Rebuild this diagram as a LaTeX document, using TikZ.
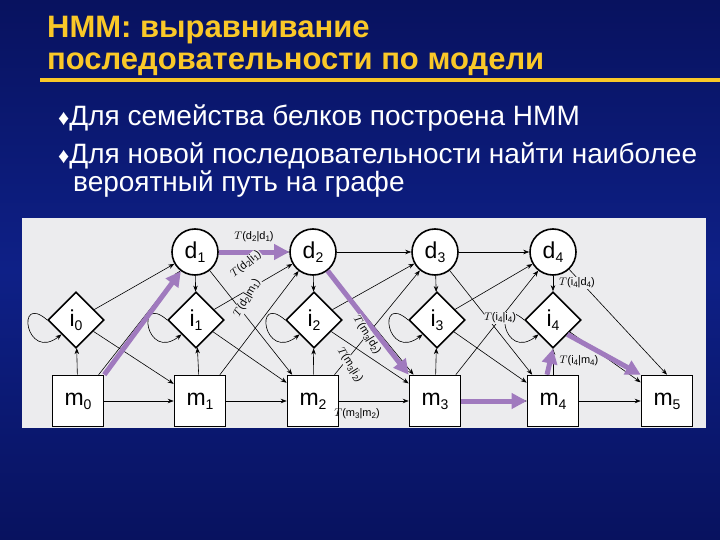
\documentclass[tikz,border=0pt]{standalone}
\usepackage{fontspec}
\setmainfont{Liberation Sans}
\usetikzlibrary{shapes.geometric,arrows.meta}
\definecolor{bgblue}{RGB}{14,32,135}
\definecolor{bgdark}{RGB}{8,18,95}
\definecolor{ttl}{RGB}{250,200,40}
\definecolor{pur}{RGB}{160,122,190}
\definecolor{panel}{RGB}{236,236,238}
\newcommand{\sbs}[1]{\raisebox{-4pt}{\fontsize{14}{14}\selectfont #1}}
\newcommand{\lsb}[1]{\raisebox{-2pt}{\fontsize{8}{8}\selectfont #1}}
\tikzset{
 nodefont/.style={font=\fontsize{23}{23}\selectfont},
 dst/.style={circle,draw,line width=1.6pt,fill=white,minimum size=46pt,inner sep=0pt,nodefont},
 ist/.style={diamond,draw,line width=1.6pt,fill=white,minimum size=56pt,inner sep=0pt,nodefont},
 mst/.style={rectangle,draw,line width=1.6pt,fill=white,minimum size=51pt,inner sep=0pt,nodefont},
 ed/.style={-{Stealth[length=6pt,width=4.5pt]},line width=0.6pt},
 pa/.style={-{Triangle[length=15pt,width=15pt]},line width=5pt,pur},
 lb/.style={font=\fontsize{11}{11}\selectfont,inner sep=0.5pt},
 tt/.style={anchor=base west,text=ttl,font=\bfseries\fontsize{31}{31}\selectfont,inner sep=0},
 bt/.style={anchor=base west,text=white,font=\fontsize{28}{28}\selectfont,inner sep=0}
}
\begin{document}
\begin{tikzpicture}[x=1pt,y=-1pt]
\useasboundingbox (0,0) rectangle (720,540);
\shade[top color=bgdark,bottom color=bgdark,middle color=bgblue] (0,0) rectangle (720,540);
\node[tt] (t1) at (47,38) {НММ: выравнивание};
\node[tt] (t2) at (47,70) {последовательности по модели};
\fill[ttl] (40,78) rectangle (720,82);
\node[bt] (b1) at (58,126) {\fontsize{22}{22}\selectfont♦\fontsize{28}{28}\selectfont Для семейства белков построена HMM};
\node[bt] (b2) at (58,164) {\fontsize{22}{22}\selectfont♦\fontsize{28}{28}\selectfont Для новой последовательности найти наиболее};
\node[bt] (b3) at (73,192) {вероятный путь на графе};
\fill[panel] (22,218) rectangle (706,428);
\begin{scope}
\clip (22,218) rectangle (706,428);
\foreach \k/\x in {1/195,2/313,3/435,4/553} \node[dst] (d\k) at (\x,252) {d\sbs{\k}};
\foreach \k/\x in {0/76,1/196,2/314,3/437,4/553} \node[ist] (i\k) at (\x,320) {i\sbs{\k}};
\foreach \k/\x in {0/78,1/200,2/313,3/435,4/553,5/667} \node[mst] (m\k) at (\x,401) {m\sbs{\k}};
\foreach \a/\b in {1/2,2/3,3/4}{
 \draw[ed] (d\a) -- (d\b);
 \draw[ed] (d\a) -- (i\a);
 \draw[ed] (d\a) -- (m\b);
}
\draw[ed] (d4) -- (i4);
\draw[ed] (d4) -- (m5.north);
\foreach \a/\b in {0/1,1/2,2/3,3/4,4/5}{
 \draw[ed] (i\a) -- (m\b);
 \draw[ed] (m\a) -- (m\b);
}
\foreach \a/\b in {0/1,1/2,2/3,3/4}{
 \draw[ed] (i\a) -- (d\b);
 \draw[ed] (m\a) -- (d\b);
}
\foreach \a in {0,1,2,3,4}{
 \draw[ed] (m\a) -- (i\a);
 \draw[ed] (i\a.west) .. controls +(-32,-28) and +(-36,28) .. (i\a.south west);
}
\draw[pa] (m0.north east) -- (d1);
\draw[pa] (d1) -- (d2);
\draw[pa] (d2) -- (m3.north west);
\draw[pa] (m3) -- (m4);
\draw[pa] ([xshift=-6pt]m4.north) -- (i4.south);
\draw[pa] (i4.south east) -- (m5.north west);
\node[lb] (l1) at (254,237) {$T$(d\lsb{2}|d\lsb{1})};
\node[lb,rotate=40,fill=panel] (l2) at (246,264) {$T$(d\lsb{2}|i\lsb{1})};
\node[lb,rotate=60,fill=panel] (l3) at (247,298) {$T$(d\lsb{2}|m\lsb{1})};
\node[lb,rotate=-58,fill=panel] (l4) at (367,335) {$T$(m\lsb{3}|d\lsb{2})};
\node[lb,rotate=-58,fill=panel] (l5) at (350,365) {$T$(m\lsb{3}|i\lsb{2})};
\node[lb] (l6) at (357,414) {$T$(m\lsb{3}|m\lsb{2})};
\node[lb,fill=panel] (l7) at (577,283) {$T$(i\lsb{4}|d\lsb{4})};
\node[lb,fill=panel] (l8) at (500,318) {$T$(i\lsb{4}|i\lsb{4})};
\node[lb,fill=panel] (l9) at (579,361) {$T$(i\lsb{4}|m\lsb{4})};
\end{scope}
\end{tikzpicture}
\end{document}
